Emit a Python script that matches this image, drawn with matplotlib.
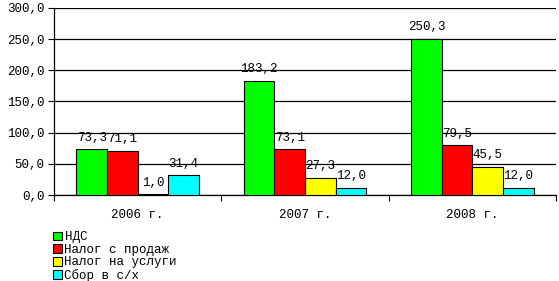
import matplotlib.pyplot as plt
import numpy as np
from matplotlib.patches import Patch

years = ['2006 г.', '2007 г.', '2008 г.']
series = ['НДС', 'Налог с продаж', 'Налог на услуги', 'Сбор в с/х']
nds = [73.3, 183.2, 250.3]
sales = [71.1, 73.1, 79.5]
services = [1.0, 27.3, 45.5]
agri = [31.4, 12.0, 12.0]
colors = ['#00ff00', '#ff0000', '#ffff00', '#00ffff']

plt.rcParams['font.family'] = ['Liberation Mono', 'DejaVu Sans Mono']
plt.rcParams['font.size'] = 9

fig = plt.figure(figsize=(5.59, 2.81), dpi=100)
ax = fig.add_axes([54 / 559, 1 - 195 / 281, 502 / 559, 187 / 281])

x = np.arange(len(years))
w = 0.183
data = [nds, sales, services, agri]
for i, vals in enumerate(data):
    pos = x + (i - 1.5) * w
    ax.bar(pos, vals, w, color=colors[i], edgecolor='black', linewidth=0.8, zorder=3)
    for p, v in zip(pos, vals):
        ax.annotate(f'{v:.1f}'.replace('.', ','), (p, v), xytext=(0, 4),
                    textcoords='offset points', ha='center', va='bottom', fontsize=9)

ax.set_xlim(-0.5, 2.5)
ax.set_ylim(0, 300)
ax.set_yticks(np.arange(0, 301, 50))
ax.set_yticklabels([f'{t:.1f}'.replace('.', ',') for t in np.arange(0, 301, 50)])
ax.yaxis.grid(True, color='black', linewidth=0.9, zorder=0)
ax.set_xticks([-0.5, 0.5, 1.5, 2.5])
ax.set_xticklabels([])
ax.set_xticks(x, minor=True)
ax.set_xticklabels(years, minor=True)
ax.tick_params(axis='x', which='minor', length=0, pad=10)
ax.tick_params(axis='x', which='major', length=4, width=0.8, direction='out')
ax.tick_params(axis='y', length=4, width=0.8, pad=3)
for s in ['top', 'right']:
    ax.spines[s].set_visible(False)
for s in ['left', 'bottom']:
    ax.spines[s].set_linewidth(0.9)

handles = [Patch(facecolor=c, edgecolor='black', linewidth=0.8) for c in colors]
fig.legend(handles, series, loc='upper left', bbox_to_anchor=(47 / 559, 1 - 225 / 281),
           frameon=False, handlelength=0.7, handleheight=0.7, handletextpad=0.2,
           labelspacing=0.05, borderpad=0, fontsize=9)

fig.savefig('out.png', dpi=100)
